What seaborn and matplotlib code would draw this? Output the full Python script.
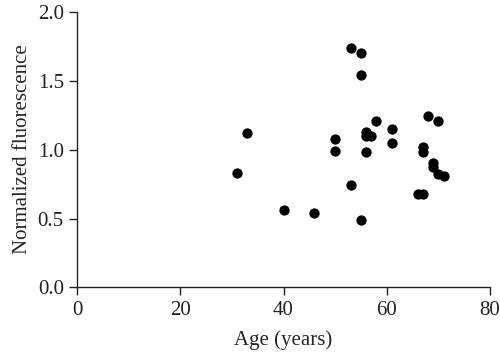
import matplotlib
matplotlib.use("Agg")
import seaborn as sns
import pandas as pd
import matplotlib.pyplot as plt

# Age vs normalized fluorescence
age = [31, 33, 40, 46, 50, 50, 53, 53, 55, 55, 55, 56, 56, 56, 57, 58,
       61, 61, 66, 67, 67, 67, 68, 69, 69, 70, 70, 71]
fluor = [0.83, 1.12, 0.56, 0.54, 1.08, 0.99, 1.74, 0.74, 1.70, 1.54, 0.49,
         1.13, 1.10, 0.98, 1.10, 1.21, 1.15, 1.05, 0.68, 1.02, 0.98, 0.68,
         1.24, 0.90, 0.87, 1.21, 0.82, 0.81]

df = pd.DataFrame({"Age": age, "Fluorescence": fluor})

sns.set_style("ticks")
plt.rcParams['font.family'] = ['Liberation Serif', 'DejaVu Serif']

fig = plt.figure(figsize=(5, 3.54), dpi=100)
ax = fig.add_axes([0.154, 0.188, 0.826, 0.779])

sns.scatterplot(data=df, x="Age", y="Fluorescence", color="black",
                s=55, edgecolor="black", linewidth=0, ax=ax)

ax.set_xlim(0, 80)
ax.set_ylim(0, 2.0)
ax.set_xticks([0, 20, 40, 60, 80])
ax.set_yticks([0.0, 0.5, 1.0, 1.5, 2.0])
ax.set_yticklabels(["0.0", "0.5", "1.0", "1.5", "2.0"])
ax.set_xlabel("Age (years)", fontsize=15, labelpad=8)
ax.set_ylabel("Normalized fluorescence", fontsize=15, labelpad=4)
ax.tick_params(labelsize=15, length=6, width=1, colors="#222222")
for s in ["left", "bottom"]:
    ax.spines[s].set_linewidth(1)
    ax.spines[s].set_color("#222222")
sns.despine(ax=ax)

fig.savefig("out.png", dpi=100)
